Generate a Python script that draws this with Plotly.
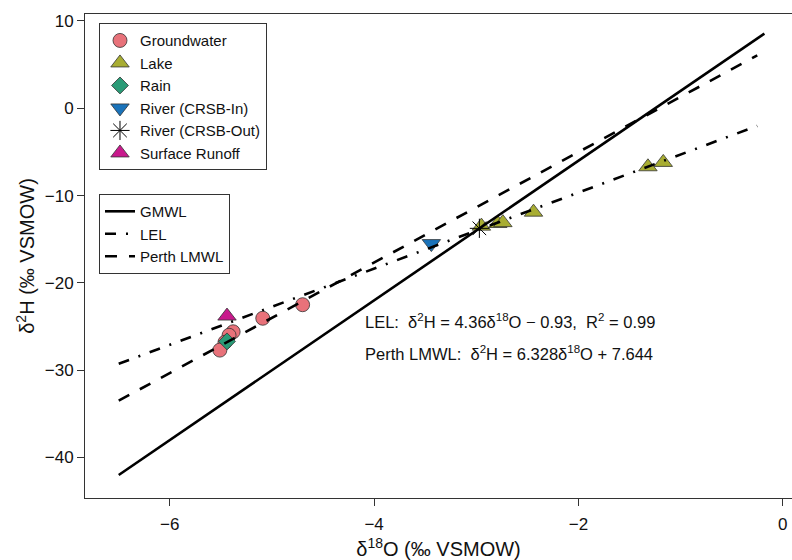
import plotly.graph_objects as go

# ---- data ----
gw_x = [-4.70, -5.09, -5.38, -5.42, -5.46, -5.51]
gw_y = [-22.5, -24.05, -25.6, -26.0, -26.8, -27.7]
lake_x = [-2.95, -2.79, -2.74, -2.44, -1.32, -1.17]
lake_y = [-13.5, -13.2, -13.1, -11.9, -6.7, -6.2]
rain_x = [-5.44]
rain_y = [-26.7]
rin_x = [-3.44]
rin_y = [-15.5]
rout_x = [-2.97]
rout_y = [-13.75]
sr_x = [-5.44]
sr_y = [-23.8]

gmwl_x = [-6.5, -0.18]
gmwl_y = [-42.0, 8.56]
lel_x = [-6.5, -0.25]
lel_y = [-29.27, -2.02]
lmwl_x = [-6.5, -0.25]
lmwl_y = [-33.49, 6.06]

x_ticks = [-6, -4, -2, 0]
y_ticks = [-40, -30, -20, -10, 0, 10]

FONT = "Liberation Sans, Arial, sans-serif"
EDGE = dict(color="#333333", width=0.8)

fig = go.Figure()

def pts(name, x, y, symbol, color, size, line=EDGE):
    fig.add_trace(go.Scatter(
        x=x, y=y, mode="markers", name=name, legend="legend",
        marker=dict(symbol=symbol, color=color, size=size, line=line)))

pts("Groundwater", gw_x, gw_y, "circle", "#E8727A", 14)
pts("Lake", lake_x, lake_y, "triangle-up", "#A8AD32", 16)
pts("Rain", rain_x, rain_y, "diamond", "#2B9B77", 13)
pts("River (CRSB-In)", rin_x, rin_y, "triangle-down", "#1A73BA", 16)
pts("River (CRSB-Out)", rout_x, rout_y, "asterisk-open", "#000000", 16,
    line=dict(color="#000000", width=1))
pts("Surface Runoff", sr_x, sr_y, "triangle-up", "#C8198C", 16)

def ln(name, x, y, dash):
    fig.add_trace(go.Scatter(
        x=x, y=y, mode="lines", name=name, legend="legend2",
        line=dict(color="black", width=2.6, dash=dash)))

ln("GMWL", gmwl_x, gmwl_y, "solid")
ln("LEL", lel_x, lel_y, "11px,10px,2px,10px")
ln("Perth LMWL", lmwl_x, lmwl_y, "12px,12px")

NB = "\u00a0"
fig.add_annotation(
    x=-4.11, y=-24.33, xref="x", yref="y", xanchor="left", yanchor="middle",
    showarrow=False, font=dict(family=FONT, size=16.5, color="#111111"),
    text=f"LEL:{NB}{NB}δ<sup>2</sup>H{NB}={NB}4.36δ<sup>18</sup>O{NB}−{NB}0.93,{NB}{NB}R<sup>2</sup>{NB}={NB}0.99")
fig.add_annotation(
    x=-4.11, y=-28.03, xref="x", yref="y", xanchor="left", yanchor="middle",
    showarrow=False, font=dict(family=FONT, size=16.5, color="#111111"),
    text=f"Perth LMWL:{NB}{NB}δ<sup>2</sup>H{NB}={NB}6.328δ<sup>18</sup>O{NB}+{NB}7.644")

axis_common = dict(
    showgrid=False, zeroline=False, showline=True, linecolor="#333333", linewidth=1,
    ticks="outside", ticklen=7, tickcolor="#333333", tickwidth=1, automargin=False,
    tickfont=dict(family=FONT, size=17, color="#111111"),
)

fig.update_layout(
    width=792, height=560,
    margin=dict(l=85, r=0, t=14, b=62),
    paper_bgcolor="white", plot_bgcolor="white",
    font=dict(family=FONT, color="#111111"),
    xaxis=dict(range=[-6.83, 0.09], tickvals=x_ticks, mirror=True, ticklabelstandoff=4,
               title=dict(text="δ<sup>18</sup>O (‰ VSMOW)", font=dict(family=FONT, size=20),
                          standoff=10),
               **axis_common),
    yaxis=dict(range=[-44.64, 10.8], tickvals=y_ticks, ticklabelstandoff=0,
               title=dict(text="δ<sup>2</sup>H (‰ VSMOW)", font=dict(family=FONT, size=20),
                          standoff=4),
               **axis_common),
    legend=dict(x=0.0198, y=0.981, xanchor="left", yanchor="top",
                bordercolor="#333333", borderwidth=1, bgcolor="white",
                font=dict(family=FONT, size=15, color="#111111")),
    legend2=dict(x=0.0198, y=0.628, xanchor="left", yanchor="top",
                 bordercolor="#333333", borderwidth=1, bgcolor="white",
                 font=dict(family=FONT, size=15, color="#111111")),
)

fig.write_html("out.html", config={"displayModeBar": False},
               post_script="document.body.style.margin='0';")
